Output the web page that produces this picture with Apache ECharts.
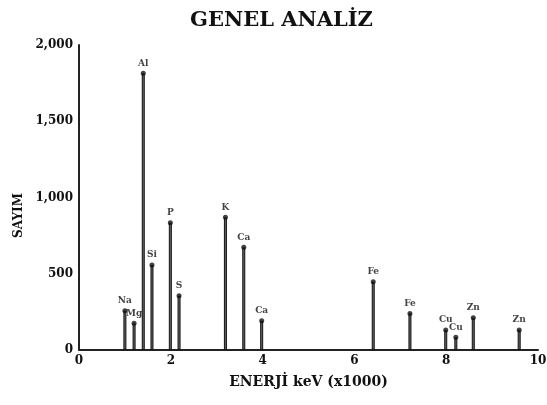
<!DOCTYPE html>
<html>
<head>
<meta charset="utf-8">
<script src="https://cdn.jsdelivr.net/npm/echarts@6/dist/echarts.min.js"></script>
<style>
html, body { margin: 0; padding: 0; background: #ffffff; }
#container { width: 547px; height: 405px; }
</style>
</head>
<body>
<div id="container"></div>
<script type="text/javascript">
// peaks (energy in keV x1000, counts)
var energies = [1.00, 1.20, 1.40, 1.59, 1.99, 2.18, 3.19, 3.59, 3.98, 6.41, 7.21, 7.99, 8.21, 8.59, 9.59];
var counts   = [258, 175, 1814, 557, 835, 356, 870, 673, 192, 448, 240, 131, 83, 212, 131];
var elements = ['Na', 'Mg', 'Al', 'Si', 'P', 'S', 'K', 'Ca', 'Ca', 'Fe', 'Fe', 'Cu', 'Cu', 'Zn', 'Zn'];
var xTicks = [0, 2, 4, 6, 8, 10];
var yTicks = [0, 500, 1000, 1500, 2000];

var serif = "'DejaVu Serif', 'Liberation Serif', serif";

function withComma(v) {
    var s = String(v);
    return s.length > 3 ? s.slice(0, s.length - 3) + ',' + s.slice(s.length - 3) : s;
}

var peaks = energies.map(function (e, i) { return [e, counts[i], elements[i]]; });

var myChart = echarts.init(document.getElementById('container'));
var option = {
    animation: false,
    title: {
        text: 'GENEL ANALİZ',
        left: 185,
        top: 5,
        textStyle: { fontFamily: serif, fontSize: 21, fontWeight: 'bold', color: '#111' }
    },
    grid: { left: 79, right: 9, top: 45, bottom: 55, outerBoundsMode: 'none' },
    xAxis: {
        type: 'value',
        min: xTicks[0],
        max: xTicks[xTicks.length - 1],
        interval: 2,
        name: 'ENERJİ keV (x1000)',
        nameLocation: 'middle',
        nameGap: 25,
        nameTextStyle: { fontFamily: serif, fontSize: 14, fontWeight: 'bold', color: '#111' },
        axisLine: { lineStyle: { color: '#222', width: 2 } },
        axisTick: { show: false },
        splitLine: { show: false },
        axisLabel: { fontFamily: serif, fontSize: 12, fontWeight: 'bold', color: '#111', margin: 5 }
    },
    yAxis: {
        type: 'value',
        min: yTicks[0],
        max: yTicks[yTicks.length - 1],
        interval: 500,
        name: 'SAYIM',
        nameLocation: 'middle',
        nameGap: 52,
        nameTextStyle: { fontFamily: serif, fontSize: 12, fontWeight: 'bold', color: '#111', padding: [0, 36, 0, 0] },
        axisLine: { show: true, lineStyle: { color: '#222', width: 2 } },
        axisTick: { show: false },
        splitLine: { show: false },
        axisLabel: {
            fontFamily: serif, fontSize: 12, fontWeight: 'bold', color: '#111', margin: 6,
            formatter: withComma
        }
    },
    series: [
        {
            type: 'bar',
            barWidth: 3,
            data: peaks,
            itemStyle: { color: '#666', borderColor: '#111', borderWidth: 1 }
        },
        {
            type: 'scatter',
            symbol: 'circle',
            symbolSize: 5,
            data: peaks,
            itemStyle: { color: '#111' },
            label: {
                show: true,
                position: 'top',
                distance: 3,
                formatter: function (p) { return p.data[2]; },
                fontFamily: serif,
                fontSize: 9,
                fontWeight: 'bold',
                color: '#111'
            }
        }
    ]
};
myChart.setOption(option);
</script>
</body>
</html>
